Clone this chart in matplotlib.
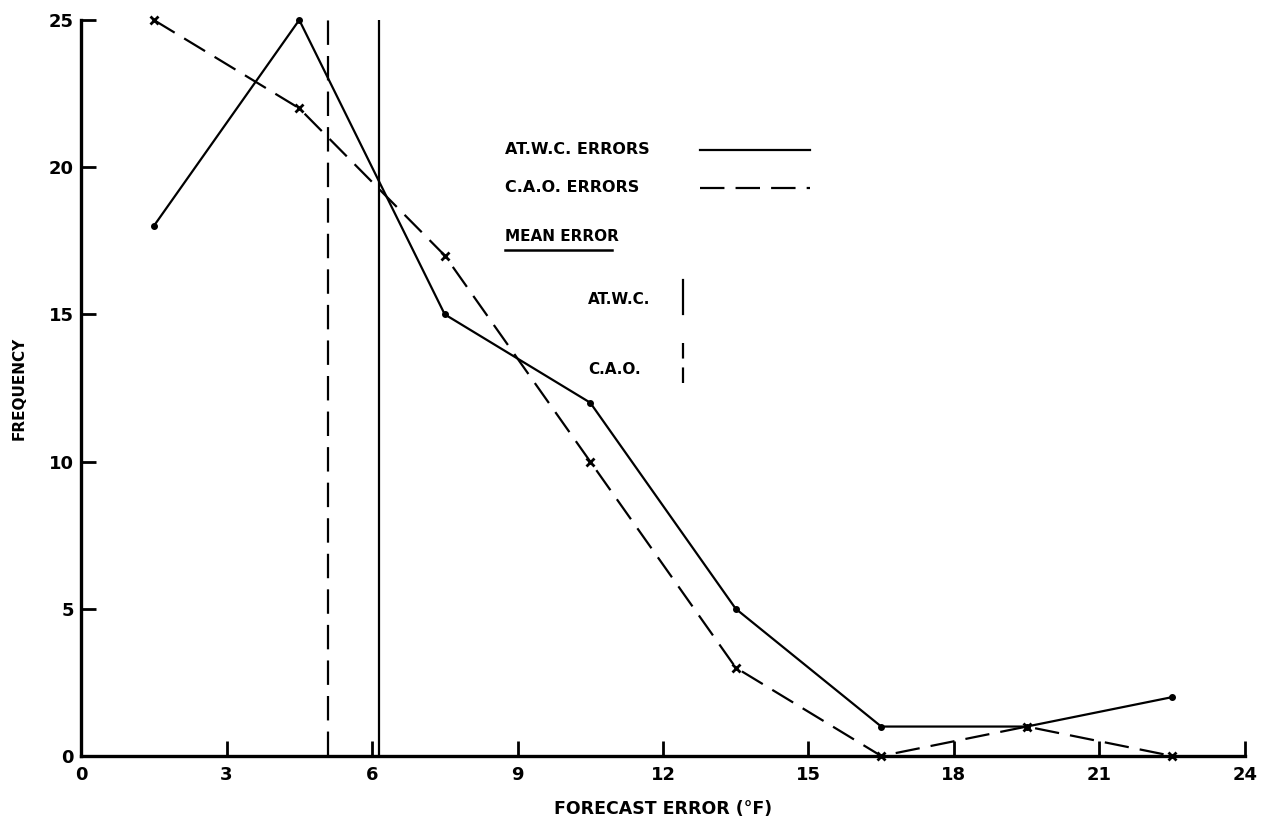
import matplotlib
matplotlib.use("Agg")
import matplotlib.pyplot as plt

# frequency of forecast errors, class midpoints in deg F
error_mid = [1.5, 4.5, 7.5, 10.5, 13.5, 16.5, 19.5, 22.5]
atwc_freq = [18, 25, 15, 12, 5, 1, 1, 2]
cao_freq = [25, 22, 17, 10, 3, 0, 1, 0]
atwc_mean = 6.15
cao_mean = 5.1

x_ticks = [0, 3, 6, 9, 12, 15, 18, 21, 24]
y_ticks = [0, 5, 10, 15, 20, 25]

plt.rcParams['font.family'] = ['DejaVu Sans']
plt.rcParams['font.weight'] = 'bold'
plt.rcParams['axes.labelweight'] = 'bold'
DASH = (0, (11, 5))
LW = 1.6

fig = plt.figure(figsize=(12.66, 8.22), dpi=100)
ax = fig.add_axes([0.064, 0.0803, 0.9194, 0.8954])

ax.plot(error_mid, atwc_freq, color='black', lw=LW, marker='o', ms=4, clip_on=False)
ax.plot(error_mid, cao_freq, color='black', lw=LW, ls=DASH, marker='x', ms=6, mew=2,
        clip_on=False)

ax.axvline(atwc_mean, ymin=0, ymax=1, color='black', lw=LW)
ax.axvline(cao_mean, ymin=0, ymax=1, color='black', lw=LW, ls=DASH)

ax.set_xlim(0, 24)
ax.set_ylim(0, 25)
ax.set_xticks(x_ticks)
ax.set_yticks(y_ticks)
ax.set_xticklabels([str(v) for v in x_ticks])
ax.set_yticklabels([str(v) for v in y_ticks])
ax.tick_params(direction='in', length=11, width=2, labelsize=13)
ax.tick_params(axis='y', pad=5)
ax.tick_params(axis='x', pad=7)
ax.spines['top'].set_visible(False)
ax.spines['right'].set_visible(False)
ax.spines['left'].set_linewidth(2.4)
ax.spines['bottom'].set_linewidth(2.4)

ax.set_xlabel('FORECAST ERROR (°F)', fontsize=12.5, labelpad=12)
ax.set_ylabel('FREQUENCY', fontsize=11, labelpad=16)

# key drawn inside the plot area
tf = ax.transAxes
def fx(px):
    return (px - 81) / (1245 - 81)
def fy(py):
    return (756 - py) / (756 - 20)

ax.text(fx(505), fy(150), 'AT.W.C. ERRORS', transform=tf, fontsize=11.5, va='center')
ax.plot([fx(700), fx(810)], [fy(150), fy(150)], transform=tf, color='black', lw=LW)
ax.text(fx(505), fy(188), 'C.A.O. ERRORS', transform=tf, fontsize=11.5, va='center')
ax.plot([fx(700), fx(810)], [fy(188), fy(188)], transform=tf, color='black', lw=LW, ls=DASH)
ax.text(fx(505), fy(237), 'MEAN ERROR', transform=tf, fontsize=11, va='center')
ax.plot([fx(505), fx(612)], [fy(250), fy(250)], transform=tf, color='black', lw=1.8)
ax.text(fx(588), fy(300), 'AT.W.C.', transform=tf, fontsize=11, va='center')
ax.plot([fx(683), fx(683)], [fy(280), fy(314)], transform=tf, color='black', lw=LW)
ax.text(fx(588), fy(370), 'C.A.O.', transform=tf, fontsize=11, va='center')
ax.plot([fx(683), fx(683)], [fy(343), fy(386)], transform=tf, color='black', lw=LW, ls=(0, (7, 4)))

fig.savefig('out.png', dpi=100)
